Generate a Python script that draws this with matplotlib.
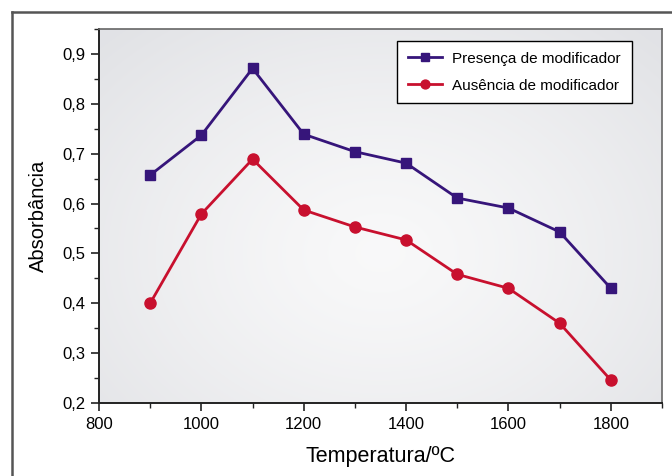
import matplotlib.pyplot as plt
import numpy as np
from matplotlib.lines import Line2D
from matplotlib.ticker import MultipleLocator, FuncFormatter

plt.rcParams["font.family"] = ["Liberation Sans", "DejaVu Sans"]

temperatures = [900, 1000, 1100, 1200, 1300, 1400, 1500, 1600, 1700, 1800]
with_modifier = [0.657, 0.737, 0.871, 0.739, 0.704, 0.681, 0.611, 0.591, 0.543, 0.430]
without_modifier = [0.400, 0.579, 0.689, 0.587, 0.553, 0.527, 0.458, 0.430, 0.360, 0.246]

purple = "#36157a"
red = "#c8102e"

fig = plt.figure(figsize=(6.72, 4.76), dpi=100)
ax = fig.add_axes([99 / 672, 1 - 403 / 476, (662 - 99) / 672, (403 - 29) / 476])

# outer frame (cut off at right/bottom like the original)
fig.add_artist(Line2D([12 / 672, 12 / 672], [0, 1 - 12 / 476], color="#555555", lw=1.8))
fig.add_artist(Line2D([12 / 672, 1], [1 - 12 / 476, 1 - 12 / 476], color="#555555", lw=1.8))

# soft radial grey gradient behind the plot
yy, xx = np.mgrid[0:1:200j, 0:1:300j]
r = np.clip(np.sqrt(((xx - 0.5) / 0.7) ** 2 + ((yy - 0.4) / 0.8) ** 2), 0, 1)
inner = np.array([0.975, 0.975, 0.978])
outer = np.array([0.885, 0.889, 0.902])
rgb = inner + (outer - inner) * r[..., None] ** 1.3
ax.imshow(rgb, extent=[0, 1, 0, 1], transform=ax.transAxes, aspect="auto",
          zorder=0, interpolation="bilinear", origin="lower")

ax.plot(temperatures, with_modifier, color=purple, lw=2, marker="s", ms=7.5,
        label="Presença de modificador", zorder=3)
ax.plot(temperatures, without_modifier, color=red, lw=2, marker="o", ms=8,
        label="Ausência de modificador", zorder=3)

ax.set_xlim(800, 1900)
ax.set_ylim(0.2, 0.95)
ax.xaxis.set_major_locator(MultipleLocator(200))
ax.xaxis.set_minor_locator(MultipleLocator(100))
ax.yaxis.set_major_locator(MultipleLocator(0.1))
ax.yaxis.set_minor_locator(MultipleLocator(0.05))
ax.yaxis.set_major_formatter(FuncFormatter(lambda v, p: f"{v:.1f}".replace(".", ",")))
ax.tick_params(which="major", direction="out", length=6, width=1.2, labelsize=12,
               color="#222222", pad=4)
ax.tick_params(which="minor", direction="out", length=3.5, width=1.0, color="#222222")

for side in ["left", "bottom"]:
    ax.spines[side].set_color("#222222")
    ax.spines[side].set_linewidth(1.4)
for side in ["top", "right"]:
    ax.spines[side].set_color("#666666")
    ax.spines[side].set_linewidth(1.2)

ax.set_xlabel("Temperatura/ºC", fontsize=15.5, labelpad=10)
ax.set_ylabel("Absorbância", fontsize=14.5, labelpad=10)

leg = ax.legend(loc="upper right", fontsize=11, frameon=True, fancybox=False,
                edgecolor="black", framealpha=1, handlelength=2.2, markerscale=0.8,
                bbox_to_anchor=(0.946, 0.968), borderaxespad=0, borderpad=0.7,
                labelspacing=0.85, handletextpad=0.7)
leg.get_frame().set_linewidth(1.0)

fig.savefig("out.png", dpi=100)
